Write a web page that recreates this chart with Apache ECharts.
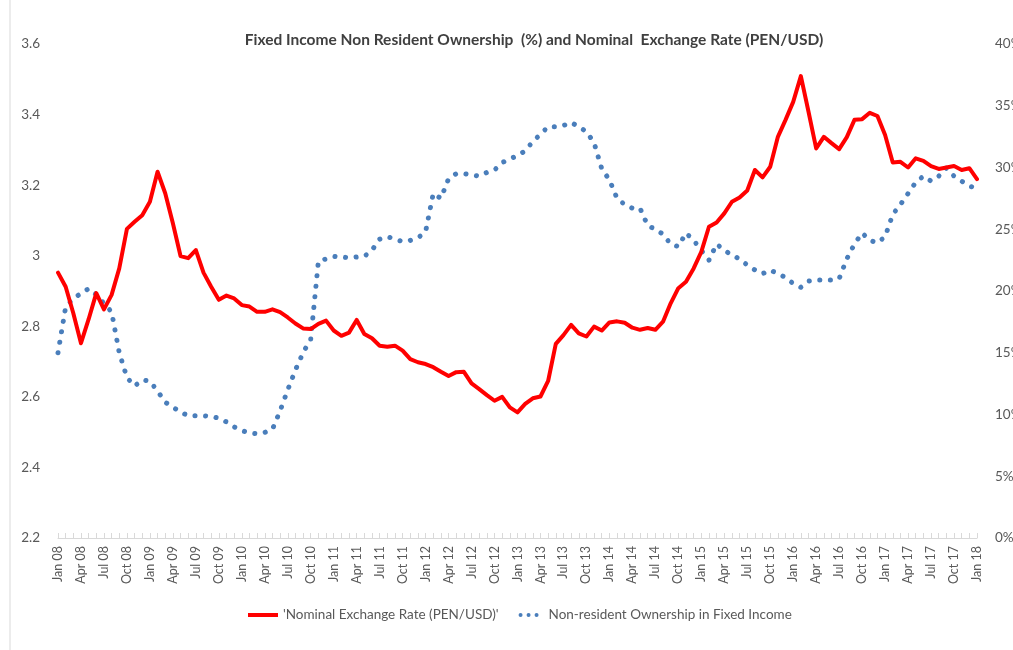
<!DOCTYPE html>
<html>
<head>
<meta charset="utf-8">
<script src="https://cdn.jsdelivr.net/npm/echarts@6/dist/echarts.min.js"></script>
<style>
html,body{margin:0;padding:0;background:#fff;}
#c{width:1013px;height:650px;}
</style>
</head>
<body>
<div id="c"></div>
<script>
const monthNames = ['Jan','Feb','Mar','Apr','May','Jun','Jul','Aug','Sep','Oct','Nov','Dec'];
const years = ['08','09','10','11','12','13','14','15','16','17','18'];
const categories = [];
for (let y = 0; y < years.length; y++) {
  for (let m = 0; m < 12; m++) {
    if (y === years.length - 1 && m > 0) break;
    categories.push(monthNames[m] + ' ' + years[y]);
  }
}

const exchangeRate = [
  2.952,2.912,2.837,2.752,2.820,2.894,2.848,2.889,2.964,3.076,3.096,3.115,
  3.153,3.238,3.177,3.092,2.999,2.993,3.016,2.952,2.912,2.875,2.887,2.879,
  2.860,2.856,2.841,2.841,2.848,2.840,2.825,2.808,2.794,2.792,2.807,2.816,
  2.788,2.773,2.782,2.818,2.778,2.766,2.745,2.742,2.745,2.731,2.707,2.698,
  2.693,2.684,2.671,2.659,2.670,2.671,2.638,2.622,2.605,2.589,2.600,2.570,
  2.556,2.580,2.596,2.601,2.645,2.750,2.775,2.804,2.780,2.771,2.799,2.788,
  2.811,2.814,2.810,2.796,2.790,2.795,2.790,2.813,2.865,2.908,2.926,2.964,
  3.011,3.082,3.094,3.120,3.153,3.165,3.185,3.243,3.222,3.252,3.337,3.385,
  3.436,3.509,3.408,3.304,3.337,3.319,3.302,3.336,3.385,3.387,3.405,3.396,
  3.342,3.264,3.266,3.250,3.276,3.269,3.254,3.246,3.250,3.254,3.243,3.248,
  3.217
];

const nonResidentOwnership = [
  15.0,18.7,19.4,19.8,20.2,19.7,19.0,18.3,15.0,13.0,12.3,12.8,
  12.7,11.9,11.0,10.6,10.2,9.9,9.9,9.9,9.85,9.7,9.4,9.0,
  8.7,8.5,8.45,8.55,8.8,10.3,12.0,13.6,15.0,16.1,22.4,22.6,
  22.8,22.75,22.7,22.75,22.8,23.3,24.2,24.4,24.2,24.0,24.1,24.3,
  24.8,27.9,27.5,29.1,29.5,29.5,29.4,29.3,29.6,29.8,30.4,30.7,
  30.95,31.35,32.1,32.7,33.3,33.3,33.4,33.65,33.3,32.9,32.0,29.9,
  29.0,27.5,27.0,26.7,26.7,25.3,25.0,24.6,23.8,23.6,24.7,24.1,
  23.3,22.5,23.8,23.3,22.9,22.6,22.1,21.7,21.4,21.7,21.4,21.1,
  20.6,20.3,20.8,20.9,20.9,20.9,21.0,22.6,23.8,24.7,24.1,23.9,
  24.4,26.2,27.0,27.9,28.8,29.3,28.9,29.3,29.95,29.3,28.9,28.5,
  28.3
];

const leftTicks = {min: 2.2, max: 3.6, interval: 0.2};
const rightTicks = {min: 0, max: 40, interval: 5};

const titleText = 'Fixed Income Non Resident Ownership  (%) and Nominal  Exchange Rate (PEN/USD)';
const seriesNames = ["'Nominal Exchange Rate (PEN/USD)'", 'Non-resident Ownership in Fixed Income'];

const FONT = 'Lato, "Open Sans", sans-serif';
const GRAY = '#595959';

const chart = echarts.init(document.getElementById('c'), null, {renderer: 'canvas'});
chart.setOption({
  backgroundColor: '#ffffff',
  animation: false,
  title: {
    text: titleText,
    left: 529,
    top: 27,
    textAlign: 'center',
    textStyle: {fontFamily: FONT, fontSize: 15.5, fontWeight: 'bold', color: '#404040'}
  },
  graphic: [{
    type: 'line',
    shape: {x1: 10, y1: 0, x2: 10, y2: 650},
    style: {stroke: '#d9d9d9', lineWidth: 1}
  }],
  grid: {left: 58, right: 36, top: 44, bottom: 112, containLabel: false, outerBoundsMode: 'none'},
  legend: {
    left: 243,
    top: 603,
    itemGap: 20,
    itemWidth: 30,
    itemHeight: 4,
    textStyle: {fontFamily: FONT, fontSize: 13.5, color: GRAY},
    data: [
      {name: seriesNames[0], icon: 'rect', itemStyle: {color: '#ff0000'}},
      {name: seriesNames[1], icon: 'path://M0,3a3,3 0 1,0 6,0a3,3 0 1,0 -6,0Z M12,3a3,3 0 1,0 6,0a3,3 0 1,0 -6,0Z M24,3a3,3 0 1,0 6,0a3,3 0 1,0 -6,0Z', itemStyle: {color: '#4a7ebb'}}
    ]
  },
  xAxis: {
    type: 'category',
    data: categories,
    boundaryGap: false,
    axisLine: {show: true, lineStyle: {color: '#d9d9d9', width: 1}},
    axisTick: {show: true, inside: true, interval: 0, length: 5, lineStyle: {color: '#d9d9d9'}},
    axisLabel: {interval: 2, rotate: 90, margin: 8, fontFamily: FONT, fontSize: 12.5, color: GRAY},
    splitLine: {show: false}
  },
  yAxis: [{
    type: 'value',
    min: leftTicks.min, max: leftTicks.max, interval: leftTicks.interval,
    axisLine: {show: false}, axisTick: {show: false}, splitLine: {show: false},
    axisLabel: {margin: 18, fontFamily: FONT, fontSize: 13.5, color: GRAY,
      formatter: v => String(parseFloat(v.toFixed(1)))}
  }, {
    type: 'value',
    position: 'right',
    min: rightTicks.min, max: rightTicks.max, interval: rightTicks.interval,
    axisLine: {show: false}, axisTick: {show: false}, splitLine: {show: false},
    axisLabel: {margin: 18, fontFamily: FONT, fontSize: 13.5, color: GRAY,
      formatter: v => Math.round(v) + '%'}
  }],
  series: [{
    name: seriesNames[0],
    type: 'line',
    yAxisIndex: 0,
    data: exchangeRate,
    symbol: 'none',
    smooth: false,
    lineStyle: {color: '#ff0000', width: 4, cap: 'round', join: 'round'},
    itemStyle: {color: '#ff0000'},
    z: 3
  }, {
    name: seriesNames[1],
    type: 'line',
    yAxisIndex: 1,
    data: nonResidentOwnership,
    symbol: 'none',
    smooth: false,
    lineStyle: {color: '#4a7ebb', width: 5, type: [0.1, 10.5], cap: 'round', join: 'round'},
    itemStyle: {color: '#4a7ebb'},
    z: 2
  }]
});
</script>
</body>
</html>
